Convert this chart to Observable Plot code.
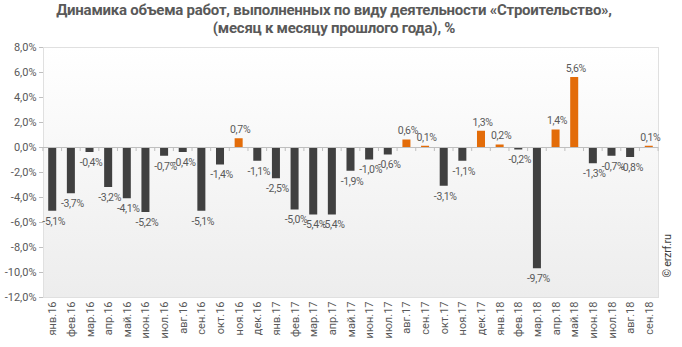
<!DOCTYPE html>
<html>
<head>
<meta charset="utf-8">
<script src="https://cdn.jsdelivr.net/npm/d3@7"></script>
<script src="https://cdn.jsdelivr.net/npm/@observablehq/plot@0.6"></script>
<style>
  body { margin: 0; background: #fff; }
  #title { width: 668px; padding-right: 14px; text-align: center; font-family: Roboto, sans-serif; font-weight: bold; font-size: 15px; line-height: 18px; color: #595959; padding-top: 1px; height: 37px; letter-spacing: -0.25px; }
  #chart svg { display: block; }
  #chart svg g[aria-label="text"] text { letter-spacing: -0.35px; }
</style>
</head>
<body>
<div id="title">Динамика объема работ, выполненных по виду деятельности «Строительство»,<br>(месяц к месяцу прошлого года), %</div>
<div id="chart"></div>
<script>
const months = ["янв.16","фев.16","мар.16","апр.16","май.16","июн.16","июл.16","авг.16","сен.16","окт.16","ноя.16","дек.16",
  "янв.17","фев.17","мар.17","апр.17","май.17","июн.17","июл.17","авг.17","сен.17","окт.17","ноя.17","дек.17",
  "янв.18","фев.18","мар.18","апр.18","май.18","июн.18","июл.18","авг.18","сен.18"];
const values = [-5.1,-3.7,-0.4,-3.2,-4.1,-5.2,-0.7,-0.4,-5.1,-1.4,0.7,-1.1,
  -2.5,-5.0,-5.4,-5.4,-1.9,-1.0,-0.6,0.6,0.1,-3.1,-1.1,1.3,
  0.2,-0.2,-9.7,1.4,5.6,-1.3,-0.7,-0.8,0.1];
const yTicks = [-12,-10,-8,-6,-4,-2,0,2,4,6,8];
const credit = "© erzrf.ru";

const data = months.map((m, i) => ({month: m, value: values[i]}));
const fmt = v => v.toFixed(1).replace(".", ",") + "%";

const background = (index, scales, channels, dim) => {
  const g = d3.create("svg:g");
  const grad = g.append("defs").append("linearGradient")
    .attr("id", "bggrad").attr("x1", 0).attr("y1", 0).attr("x2", 0).attr("y2", 1);
  grad.append("stop").attr("offset", "0%").attr("stop-color", "#ffffff");
  grad.append("stop").attr("offset", "100%").attr("stop-color", "#ededed");
  g.append("rect")
    .attr("x", dim.marginLeft).attr("y", dim.marginTop)
    .attr("width", dim.width - dim.marginLeft - dim.marginRight)
    .attr("height", dim.height - dim.marginTop - dim.marginBottom)
    .attr("fill", "url(#bggrad)");
  return g.node();
};

const zeroTicks = (index, scales) => {
  const g = d3.create("svg:g").attr("stroke", "#bfbfbf");
  const bw = scales.x.bandwidth ? scales.x.bandwidth() : 0;
  const step = scales.x.step ? scales.x.step() : 0;
  const y0 = scales.y(0);
  months.forEach((m, i) => {
    const xb = scales.x(m) + bw / 2 - step / 2;
    g.append("line").attr("x1", xb).attr("x2", xb).attr("y1", y0).attr("y2", y0 + 4);
  });
  const last = scales.x(months[months.length - 1]) + bw / 2 + step / 2;
  g.append("line").attr("x1", last).attr("x2", last).attr("y1", y0).attr("y2", y0 + 4);
  return g.node();
};

const chart = Plot.plot({
  width: 682,
  height: 309,
  marginTop: 9,
  marginBottom: 50,
  marginLeft: 43,
  marginRight: 24,
  style: {fontFamily: "Roboto, sans-serif", fontSize: "11px", color: "#595959", background: "transparent"},
  x: {domain: months, paddingInner: 0.57, paddingOuter: 0.28, round: false, label: null},
  y: {domain: [-12, 8], label: null},
  marks: [
    background,
    Plot.frame({stroke: "#e0e0e0"}),
    Plot.barY(data, {x: "month", y: "value", fill: d => d.value > 0 ? "#e36c09" : "#404040"}),
    Plot.ruleY([0], {stroke: "#bfbfbf"}),
    zeroTicks,
    Plot.ruleX([0], {frameAnchor: "left", stroke: "#bfbfbf"}),
    Plot.axisY({ticks: yTicks, tickFormat: fmt, tickSize: 4, tickPadding: 3, stroke: "#bfbfbf", fill: "#595959", label: null}),
    Plot.axisX({tickRotate: -90, tickSize: 0, tickPadding: 4, fill: "#595959", label: null}),
    Plot.text(data.filter(d => d.value < 0), {
      x: "month", y: "value", text: d => fmt(d.value),
      dy: 10, dx: 1, fill: "#595959", fontSize: 10.5
    }),
    Plot.text(data.filter(d => d.value >= 0), {
      x: "month", y: "value", text: d => fmt(d.value),
      dy: -9, dx: 1, fill: "#595959", fontSize: 10.5
    }),
    Plot.text([credit], {frameAnchor: "bottom-right", rotate: -90, textAnchor: "start", dx: 12, dy: -20, fill: "#404040", fontSize: 11})
  ]
});
document.getElementById("chart").appendChild(chart);
</script>
</body>
</html>
